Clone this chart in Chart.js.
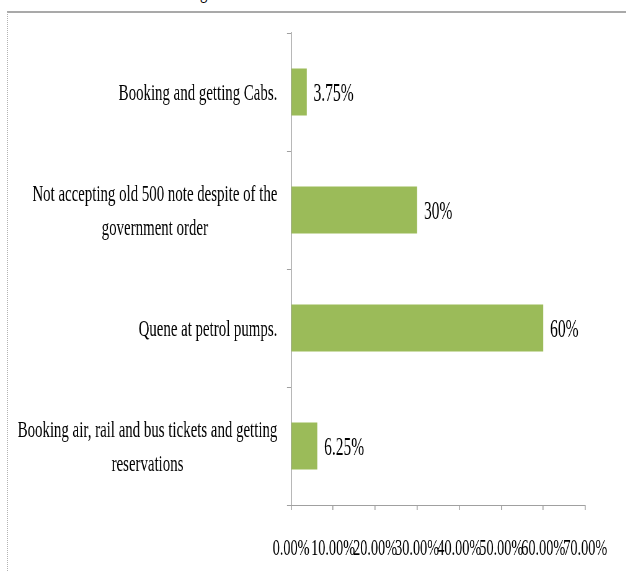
<!DOCTYPE html>
<html lang="en">

<head>
    <meta charset="UTF-8">
    <meta name="viewport" content="width=device-width, initial-scale=1.0">
    <script src="https://cdn.jsdelivr.net/npm/chart.js"></script>
    <title>Problems faced</title>
</head>

<body>
    <div class="caption">g</div>
    <div class="frame"></div>
    <div class="chart-wrapper">
        <canvas id="myChart"></canvas>
    </div>
    <style>
        body {
            background-color: #fff;
            margin: 0;
            width: 626px;
            height: 572px;
            overflow: hidden;
            position: relative;
        }

        .caption {
            position: absolute;
            top: -22px;
            left: 200px;
            font: 24px/24px "Liberation Serif", serif;
            transform: scaleX(0.62);
            transform-origin: 0 0;
        }

        .frame {
            position: absolute;
            left: 7px;
            top: 11px;
            width: 700px;
            height: 600px;
            border-top: 2px solid #a9a9a9;
            border-left: 1px dotted #b3b3b3;
        }

        /* drawn wide, then squeezed sideways for the narrow serif look */
        .chart-wrapper {
            position: absolute;
            left: 0;
            top: 0;
            width: 1010px;
            height: 572px;
            transform: scaleX(0.62);
            transform-origin: 0 0;
        }
    </style>
    <script>
        const squeeze = 0.62;

        const categories = [
            "Booking and getting Cabs.",
            ["Not accepting old 500 note despite of the", "government order"],
            "Quene at petrol pumps.",
            ["Booking air, rail and bus tickets and getting", "reservations"]
        ];
        const shares = [3.75, 30, 60, 6.25];
        const share_labels = ["3.75%", "30%", "60%", "6.25%"];
        const x_ticks = [0, 10, 20, 30, 40, 50, 60, 70];

        const serif = "'Liberation Serif', 'Times New Roman', serif";

        // value text just to the right of each bar
        const barValues = {
            id: "barValues",
            afterDatasetsDraw(chart) {
                const ctx = chart.ctx;
                const meta = chart.getDatasetMeta(0);
                ctx.save();
                ctx.font = `25px ${serif}`;
                ctx.fillStyle = "#000";
                ctx.textAlign = "left";
                ctx.textBaseline = "middle";
                meta.data.forEach((bar, i) => {
                    ctx.fillText(share_labels[i], bar.x + 11, bar.y + 2);
                });
                ctx.restore();
            }
        };

        // category names: each block sits against the axis, its lines centred on each other
        const categoryNames = {
            id: "categoryNames",
            afterDraw(chart) {
                const ctx = chart.ctx;
                const scale = chart.scales.y;
                const line_gap = 34;
                ctx.save();
                ctx.font = `24px ${serif}`;
                ctx.fillStyle = "#000";
                ctx.textAlign = "center";
                ctx.textBaseline = "middle";
                categories.forEach((label, i) => {
                    const lines = [].concat(label);
                    const widest = Math.max(...lines.map((l) => ctx.measureText(l).width));
                    const cx = scale.right - 22 - widest / 2;
                    const y0 = scale.getPixelForTick(i) - (lines.length - 1) * line_gap / 2 + 2;
                    lines.forEach((l, j) => ctx.fillText(l, cx, y0 + j * line_gap));
                });
                ctx.restore();
            }
        };

        const ctx = document.getElementById("myChart");

        new Chart(ctx, {
            type: "bar",
            data: {
                labels: categories,
                datasets: [{
                    data: shares,
                    backgroundColor: "#9bbb59",
                    barPercentage: 0.4,
                    categoryPercentage: 1
                }]
            },
            options: {
                indexAxis: "y",
                responsive: true,
                maintainAspectRatio: false,
                animation: false,
                layout: {
                    padding: { top: 33, right: 66, bottom: 0, left: 0 }
                },
                plugins: {
                    legend: { display: false },
                    tooltip: { enabled: false }
                },
                scales: {
                    x: {
                        min: 0,
                        max: 70,
                        afterBuildTicks: (scale) => {
                            scale.ticks = x_ticks.map((v) => ({ value: v }));
                        },
                        afterFit: (scale) => {
                            scale.height = 67;
                        },
                        border: { color: "#a0a0a0", width: 1 },
                        grid: {
                            drawOnChartArea: false,
                            tickLength: 5,
                            color: "#a0a0a0",
                            lineWidth: 1.6
                        },
                        ticks: {
                            padding: 25,
                            color: "#000",
                            maxRotation: 0,
                            autoSkip: false,
                            font: { family: serif, size: 23 },
                            callback: (v) => v.toFixed(2) + "%"
                        }
                    },
                    y: {
                        afterFit: (scale) => {
                            scale.width = 291 / squeeze;
                        },
                        border: { color: "#a0a0a0", width: 1.6 },
                        grid: {
                            drawOnChartArea: false,
                            offset: true,
                            tickLength: 6.5,
                            color: "#a0a0a0",
                            lineWidth: 1
                        },
                        ticks: { display: false }
                    }
                }
            },
            plugins: [barValues, categoryNames]
        });
    </script>
</body>

</html>
